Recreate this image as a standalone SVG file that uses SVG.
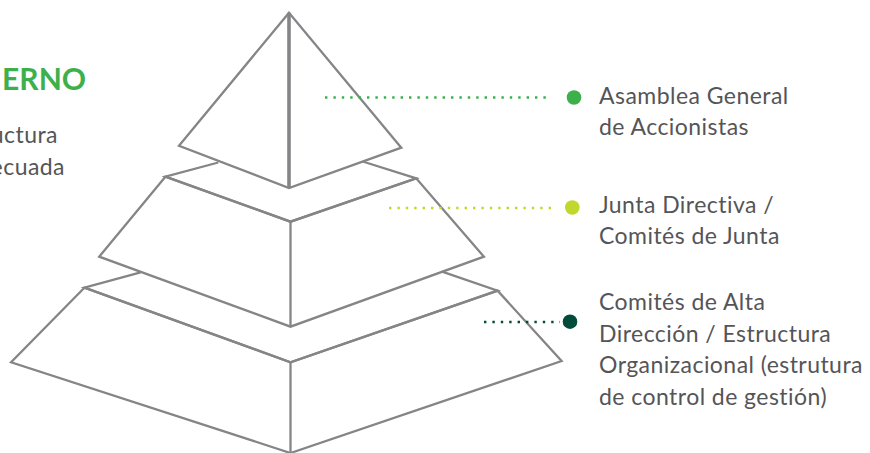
<svg xmlns="http://www.w3.org/2000/svg" width="870" height="453" viewBox="0 0 870 453">
<style>
.ln{fill:none;stroke:#858587;stroke-width:2.3;stroke-linejoin:miter}
.lbl{font-family:Lato,"Open Sans",sans-serif;font-size:23px;letter-spacing:0.45px;fill:#555557}
.ttl{font-family:Lato,"Open Sans",sans-serif;font-size:30px;font-weight:bold;fill:#3db04b}
.dl{fill:none;stroke-width:2.4;stroke-dasharray:2.4 6;stroke-linecap:butt}
</style>
<rect width="870" height="453" fill="#ffffff"/>
<g id="titulo">
<text class="ttl" x="86" y="90" text-anchor="end">ERNO</text>
<text class="lbl" x="58" y="143" text-anchor="end">uctura</text>
<text class="lbl" x="65" y="175" text-anchor="end">ecuada</text>
</g>
<g id="nivel-inferior">
<polyline class="ln" points="140.6,272.3 84.4,287.7 290.5,362.3 497.6,290.7 442.1,271.7"/>
<polygon class="ln" points="84.4,287.7 11.1,362.3 290.5,453 561.6,361 497.6,290.7 290.5,362.3"/>
<line class="ln" x1="290.5" y1="362.3" x2="290.5" y2="453"/>
</g>
<g id="nivel-medio">
<polyline class="ln" points="218.3,162.5 165.4,176.7 290.5,221.7 416.2,178.3 362.7,161.5"/>
<polygon class="ln" points="165.4,176.7 99.2,256.7 290.5,326.7 483.9,256.7 416.2,178.3 290.5,221.7"/>
<line class="ln" x1="290.5" y1="221.7" x2="290.5" y2="326.7"/>
</g>
<g id="nivel-superior">
<polygon class="ln" points="289,12.7 179,145.7 289,188 401.3,147.7"/>
<line class="ln" x1="289" y1="12.7" x2="289" y2="188" style="stroke-width:3.6"/>
</g>
<g id="conectores">
<line class="dl" x1="325" y1="97.5" x2="548" y2="97.5" stroke="#3db04b"/>
<line class="dl" x1="389" y1="208" x2="556" y2="208" stroke="#c1d72e"/>
<line class="dl" x1="484" y1="322" x2="560" y2="322" stroke="#004b3a"/>
</g>
<g id="asamblea">
<circle cx="574" cy="97.5" r="7.3" fill="#3db04b"/>
<text class="lbl" x="599" y="103.5">Asamblea General</text>
<text class="lbl" x="599" y="134.5">de Accionistas</text>
</g>
<g id="junta">
<circle cx="572.3" cy="207.5" r="7.3" fill="#c1d72e"/>
<text class="lbl" x="599" y="213">Junta Directiva /</text>
<text class="lbl" x="599" y="244">Comités de Junta</text>
</g>
<g id="comites">
<circle cx="570" cy="321.7" r="7.3" fill="#004b3a"/>
<text class="lbl" x="599" y="310">Comités de Alta</text>
<text class="lbl" x="599" y="341.5">Dirección / Estructura</text>
<text class="lbl" x="599" y="373">Organizacional (estrutura</text>
<text class="lbl" x="599" y="404.5">de control de gestión)</text>
</g>
</svg>
